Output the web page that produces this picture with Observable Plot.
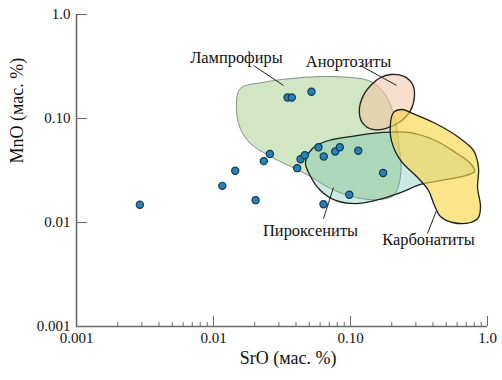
<!DOCTYPE html>
<html>
<head>
<meta charset="utf-8">
<script src="https://cdn.jsdelivr.net/npm/d3@7"></script>
<script src="https://cdn.jsdelivr.net/npm/@observablehq/plot@0.6"></script>
<style>
  body { margin: 0; background: white; }
</style>
</head>
<body>
<div id="chart"></div>
<script>
// Samples: SrO vs MnO (wt.%)
const sro = [0.0029, 0.0116, 0.0144, 0.0203, 0.0233, 0.0258, 0.0347, 0.0373, 0.0519, 0.0408,
             0.0432, 0.0464, 0.0584, 0.0638, 0.0773, 0.0836, 0.114, 0.173, 0.098, 0.0635];
const mno = [0.0148, 0.0225, 0.0314, 0.0164, 0.0389, 0.0456, 0.159, 0.159, 0.181, 0.0333,
             0.0406, 0.0444, 0.053, 0.0431, 0.0482, 0.053, 0.0489, 0.0299, 0.0185, 0.0150];

// Field outlines [SrO, MnO]
const lamprophyreField = [[0.0157,0.194],[0.0228,0.222],[0.0365,0.242],[0.0604,0.253],[0.100,0.248],
  [0.135,0.232],[0.171,0.186],[0.203,0.119],[0.224,0.0614],[0.232,0.0283],[0.206,0.0182],
  [0.157,0.0166],[0.109,0.0174],[0.0715,0.0212],[0.0511,0.0277],[0.0365,0.0346],[0.0252,0.0441],
  [0.0186,0.0575],[0.0157,0.0801],[0.0147,0.125]];
const pyroxeniteField = [[0.0469,0.0378],[0.0528,0.0515],[0.0657,0.0601],[0.100,0.0671],[0.166,0.0733],
  [0.274,0.0733],[0.417,0.0614],[0.584,0.0471],[0.752,0.0369],[0.804,0.0309],[0.691,0.0283],
  [0.454,0.0253],[0.324,0.0232],[0.232,0.0194],[0.152,0.0163],[0.109,0.0152],[0.0777,0.0163],
  [0.0604,0.0203],[0.0511,0.0277]];
const anorthositeField = [[0.196,0.265],[0.248,0.253],[0.284,0.212],[0.293,0.163],[0.274,0.119],
  [0.232,0.0936],[0.180,0.0801],[0.145,0.0784],[0.122,0.0915],[0.116,0.119],[0.124,0.166],
  [0.145,0.217],[0.166,0.248]];
const carbonatiteField = [[0.206,0.114],[0.240,0.122],[0.274,0.114],[0.404,0.0915],[0.604,0.0671],
  [0.790,0.0493],[0.860,0.0338],[0.846,0.0217],[0.889,0.0143],[0.860,0.0112],[0.752,0.0100],
  [0.555,0.0100],[0.454,0.0114],[0.410,0.0146],[0.371,0.0203],[0.314,0.0265],[0.232,0.0395],
  [0.199,0.0614],[0.196,0.0915]];

// Field labels and leader lines
const fieldNames = ["Лампрофиры", "Анортозиты", "Пироксениты", "Карбонатиты"];
const labelSrO = [0.0147, 0.0967, 0.0511, 0.371];
const labelMnO = [0.386, 0.353, 0.00838, 0.00686];
const leaderFrom = [[0.0196,0.323],[0.118,0.323],[0.0635,0.0109],[0.365,0.00784]];
const leaderTo   = [[0.0324,0.208],[0.217,0.208],[0.0751,0.0217],[0.424,0.0130]];

// Axes
const xMajor = [0.001, 0.01, 0.1, 1];
const xMajorLabels = ["0.001", "0.01", "0.10", "1.0"];
const xMinor = [0.002,0.003,0.004,0.005,0.006,0.007,0.008,0.009,
                0.02,0.03,0.04,0.05,0.06,0.07,0.08,0.09,
                0.2,0.3,0.4,0.5,0.6,0.7,0.8,0.9];
const yMajor = [0.001, 0.01, 0.1, 1];
const yMajorLabels = ["0.001", "0.01", "0.10", "1.0"];
const xTitle = "SrO (мас. %)";
const yTitle = "MnO (мас. %)";

const samples = sro.map((x, i) => ({x, y: mno[i]}));
const labels = fieldNames.map((t, i) => ({t, x: labelSrO[i], y: labelMnO[i]}));
const leaders = leaderFrom.map((a, i) => ({x1: a[0], y1: a[1], x2: leaderTo[i][0], y2: leaderTo[i][1]}));
const xFmt = new Map(xMajor.map((v, i) => [v, xMajorLabels[i]]));
const yFmt = new Map(yMajor.map((v, i) => [v, yMajorLabels[i]]));

const axisColor = "#6a6a6a";
const textColor = "#111";

function field(data, fill, fillOpacity, stroke, strokeWidth) {
  return Plot.line(data, {x: d => d[0], y: d => d[1], curve: "catmull-rom-closed",
    fill, fillOpacity, stroke, strokeWidth});
}

const chart = Plot.plot({
  width: 502,
  height: 380,
  marginLeft: 76,
  marginRight: 15,
  marginTop: 14,
  marginBottom: 54,
  style: {fontFamily: "'Liberation Serif', 'Times New Roman', serif", fontSize: "15px", color: textColor, background: "white"},
  x: {type: "log", domain: [0.001, 1]},
  y: {type: "log", domain: [0.001, 1]},
  marks: [
    field(lamprophyreField, "#a6cf8a", 0.52, "#8c8c8c", 1),
    field(pyroxeniteField, "#5fbcab", 0.32, "#1e1e1e", 1.3),
    field(anorthositeField, "#f3c3a2", 0.55, "#1e1e1e", 1.3),
    field(carbonatiteField, "#f8d545", 0.62, "#1e1e1e", 1.3),
    Plot.link(leaders, {x1: "x1", y1: "y1", x2: "x2", y2: "y2", stroke: "#222", strokeWidth: 1}),
    Plot.text(labels, {x: "x", y: "y", text: "t", fontSize: 16.4, fill: textColor}),
    Plot.dot(samples, {x: "x", y: "y", r: 3.6, fill: "#2b80b4", stroke: "#0e3a56", strokeWidth: 1.2}),
    Plot.ruleY([0.001], {stroke: axisColor, strokeWidth: 1.6}),
    Plot.ruleX([0.001], {stroke: axisColor, strokeWidth: 1.6}),
    Plot.axisX({ticks: xMinor, tickSize: -4, tickFormat: () => "", stroke: axisColor, label: null}),
    Plot.axisX({ticks: xMajor, tickSize: -10, tickPadding: 16, tickFormat: d => xFmt.get(d),
      stroke: axisColor, fill: textColor, fontSize: 15, label: null}),
    Plot.axisY({ticks: yMajor, tickSize: -11, tickPadding: 17, tickFormat: d => yFmt.get(d),
      stroke: axisColor, fill: textColor, fontSize: 15, label: null}),
    Plot.text([xTitle], {frameAnchor: "bottom", dy: 37, dx: 6, text: d => d, fontSize: 18, fill: textColor}),
    Plot.text([yTitle], {frameAnchor: "left", dx: -59, dy: -7, rotate: -90, text: d => d, fontSize: 18, fill: textColor})
  ]
});
document.getElementById("chart").appendChild(chart);
</script>
</body>
</html>
